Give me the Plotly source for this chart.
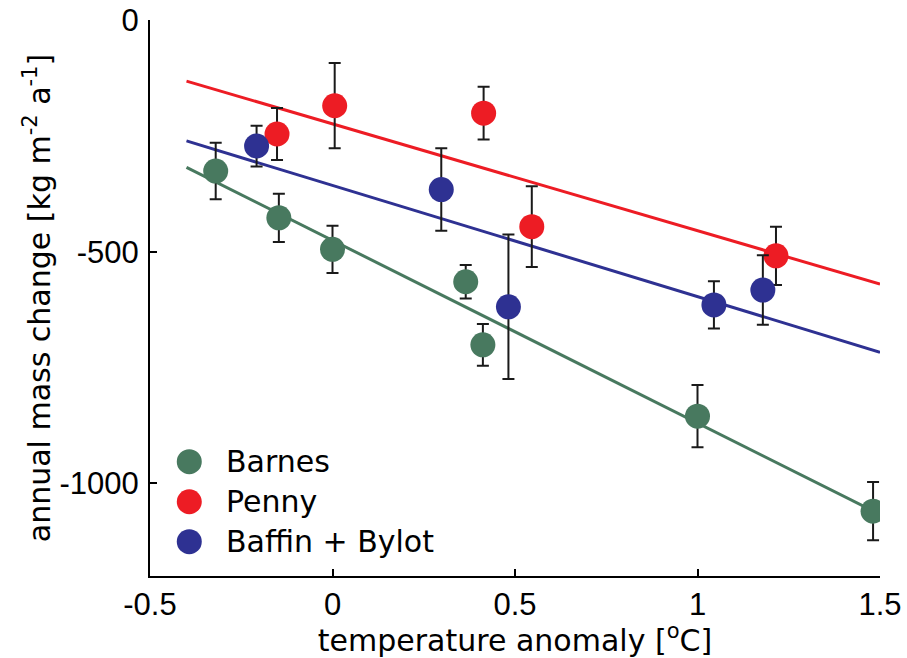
import plotly.graph_objects as go

# ---- data ----
barnes_x = [-0.32, -0.147, 0.0, 0.365, 0.412, 1.0, 1.481]
barnes_y = [-326, -427, -495, -565, -701, -855, -1060]
barnes_err = [61, 52, 51, 36, 45, 67, 63]

penny_x = [-0.152, 0.006, 0.414, 0.546, 1.215]
penny_y = [-246, -185, -201, -446, -509]
penny_err = [56, 92, 57, 87, 63]

baffin_x = [-0.208, 0.298, 0.482, 1.045, 1.179]
baffin_y = [-272, -366, -619, -615, -583]
baffin_err = [44, 89, 156, 51, 75]

fit_x = [-0.4, 1.5]
barnes_fit = [-318, -1067]
penny_fit = [-132, -570]
baffin_fit = [-261, -717]

series_names = ["Barnes", "Penny", "Baffin + Bylot"]
colors = ["#48795f", "#ed1c24", "#2e3192"]

x_ticks = [-0.5, 0, 0.5, 1, 1.5]
x_ticktext = ["-0.5", "0", "0.5", "1", "1.5"]
y_ticks = [-1000, -500, 0]
y_ticktext = ["-1000", "-500", "0"]

FONT = "Liberation Sans, Arial, Helvetica, sans-serif"
WFONT = "DejaVu Sans, Liberation Sans, sans-serif"

fig = go.Figure()

# regression lines
for fy, c in zip([barnes_fit, penny_fit, baffin_fit], colors):
    fig.add_trace(go.Scatter(x=fit_x, y=fy, mode="lines",
                             line=dict(color=c, width=3), showlegend=False,
                             hoverinfo="skip"))

# points with error bars
for name, xs, ys, es, c in zip(series_names,
                               [barnes_x, penny_x, baffin_x],
                               [barnes_y, penny_y, baffin_y],
                               [barnes_err, penny_err, baffin_err], colors):
    fig.add_trace(go.Scatter(
        x=xs, y=ys, mode="markers", name=name,
        marker=dict(color=c, size=25, line=dict(width=0)),
        error_y=dict(type="data", array=es, visible=True,
                     color="#1a1a1a", thickness=2, width=6),
        showlegend=False))

# custom legend (large circles like the reference)
legend_y = [0.2056, 0.1336, 0.0617]
cx = 0.0538
rx = 12.5 / 730
ry = 12.5 / 556
for name, c, ly in zip(series_names, colors, legend_y):
    fig.add_shape(type="circle", xref="paper", yref="paper",
                  x0=cx - rx, x1=cx + rx, y0=ly - ry, y1=ly + ry,
                  fillcolor=c, line=dict(width=0))
    fig.add_annotation(xref="paper", yref="paper", x=(224 - 150) / 730, y=ly,
                       text=name, showarrow=False, xanchor="left",
                       yanchor="middle",
                       font=dict(family=WFONT, size=30, color="black"))

fig.update_layout(
    width=907, height=658,
    margin=dict(l=150, r=27, t=20, b=82, autoexpand=False),
    paper_bgcolor="white", plot_bgcolor="white",
    font=dict(family=FONT, color="black"),
    showlegend=False,
)

fig.update_xaxes(
    range=[-0.5, 1.5], tickvals=x_ticks, ticktext=x_ticktext,
    ticks="inside", ticklen=7, tickwidth=2, tickcolor="black",
    showline=True, linecolor="black", linewidth=2,
    showgrid=False, zeroline=False, automargin=False,
    tickfont=dict(family=FONT, size=31),
    title=dict(text="temperature anomaly [<sup>o</sup>C]",
               font=dict(family=WFONT, size=30), standoff=0),
)
fig.update_yaxes(
    range=[-1200, 0], tickvals=y_ticks, ticktext=y_ticktext,
    ticks="inside", ticklen=7, tickwidth=2, tickcolor="black",
    showline=True, linecolor="black", linewidth=2,
    showgrid=False, zeroline=False, automargin=False,
    tickfont=dict(family=FONT, size=31),
    ticklabelstandoff=3,
    title=dict(text="annual mass change [kg m<sup>-2</sup> a<sup>-1</sup>]",
               font=dict(family=WFONT, size=30), standoff=0),
)

fig.write_html("out.html")
